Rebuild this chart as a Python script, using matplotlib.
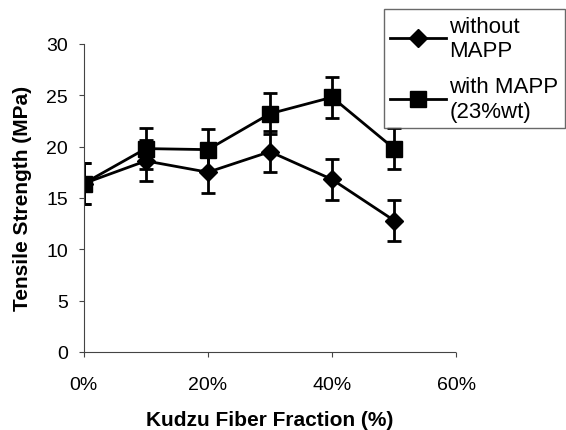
import matplotlib

matplotlib.use("Agg")
import matplotlib.pyplot as plt
from matplotlib.ticker import PercentFormatter

plt.rcParams["font.family"] = ["Liberation Sans", "DejaVu Sans"]

fraction = [0.0, 0.1, 0.2, 0.3, 0.4, 0.5]
without_mapp = [16.4, 18.6, 17.5, 19.5, 16.8, 12.8]
without_err = [2.0, 2.0, 2.0, 2.0, 2.0, 2.0]
with_mapp = [16.4, 19.8, 19.7, 23.2, 24.8, 19.8]
with_err = [2.0, 2.0, 2.0, 2.0, 2.0, 2.0]
labels = ["without\nMAPP", "with MAPP\n(23%wt)"]

fig = plt.figure(figsize=(5.66, 4.31), dpi=100)
ax = fig.add_axes([0.148, 0.181, 0.658, 0.715])

ax.errorbar(
    fraction, without_mapp, yerr=without_err, color="black", marker="D",
    markersize=9, linewidth=2, capsize=5, capthick=2, elinewidth=2,
    label=labels[0],
)
ax.errorbar(
    fraction, with_mapp, yerr=with_err, color="black", marker="s",
    markersize=11, linewidth=2, capsize=5, capthick=2, elinewidth=2,
    label=labels[1],
)

ax.set_xlim(0, 0.6)
ax.set_ylim(0, 30)
ax.set_xticks([0, 0.2, 0.4, 0.6])
ax.set_yticks(range(0, 31, 5))
ax.xaxis.set_major_formatter(PercentFormatter(1.0, decimals=0))
ax.spines["top"].set_visible(False)
ax.spines["right"].set_visible(False)
ax.spines["bottom"].set_linestyle((0, (4, 1)))
ax.spines["bottom"].set_color("#444444")
ax.spines["left"].set_color("#444444")
ax.tick_params(axis="both", labelsize=14, color="#444444")
ax.tick_params(axis="x", pad=14)
ax.tick_params(axis="y", pad=8)
ax.set_xlabel("Kudzu Fiber Fraction (%)", fontsize=15, fontweight="bold", labelpad=12)
ax.set_ylabel("Tensile Strength (MPa)", fontsize=15, fontweight="bold", labelpad=10)

handles, leg_labels = ax.get_legend_handles_labels()
handles = [h[0] for h in handles]
leg = fig.legend(
    handles, leg_labels, loc="upper left", bbox_to_anchor=(0.678, 0.977),
    fontsize=16, frameon=True, fancybox=False, edgecolor="#444444",
    handlelength=2.5, handletextpad=0.15, labelspacing=0.7, borderpad=0.3,
    borderaxespad=0.0,
)
leg.get_frame().set_linewidth(1.0)

fig.savefig("out.png", dpi=100)
